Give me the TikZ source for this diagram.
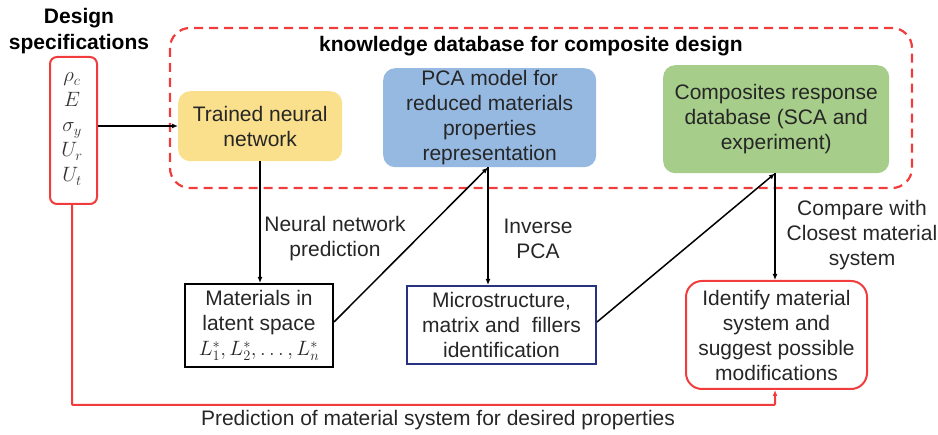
\documentclass[tikz,border=0pt]{standalone}
\usepackage{fontspec}
\setmainfont{Liberation Sans}
\usetikzlibrary{arrows.meta}
\definecolor{nnyellow}{RGB}{250,224,140}
\definecolor{pcablue}{RGB}{150,185,226}
\definecolor{cgreen}{RGB}{166,206,138}
\definecolor{rred}{RGB}{240,60,60}
\definecolor{navy}{RGB}{40,50,130}
\begin{document}
\begin{tikzpicture}[x=1pt,y=-1pt,
  lbl/.style={font=\fontsize{21}{25}\selectfont, align=center, text=black!85},
  fillbox/.style={rounded corners=12pt, lbl, anchor=north west, inner sep=0pt},
  arr/.style={-{Latex[length=6pt,width=5pt]}, line width=1.5pt},
]
\useasboundingbox (0,0) rectangle (938,435);
% dashed knowledge box
\draw[rred, line width=2.2pt, dash pattern=on 9pt off 6pt, rounded corners=20pt] (170,28) rectangle (912,188);
\node[lbl, font=\bfseries\fontsize{21}{25}\selectfont, text=black] (kt) at (531,46) {knowledge database for composite design};
% design spec
\node[lbl, font=\bfseries\fontsize{21}{26}\selectfont, text=black] (dt) at (79,31) {Design\\specifications};
\node[draw=rred, line width=2pt, rounded corners=7pt, minimum width=47pt, minimum height=147pt, anchor=north west, inner sep=0pt] (ds) at (49,56) {};
\node[font=\fontsize{21}{25}\selectfont, align=center, text=black!80] (dsv) at (72,129) {$\rho_c$\\$E$\\$\sigma_y$\\$U_r$\\$U_t$};
% colored boxes
\node[fillbox, fill=nnyellow, minimum width=164pt, minimum height=70pt] (nn) at (178,91) {Trained neural\\network};
\node[fillbox, fill=pcablue, minimum width=213pt, minimum height=99pt] (pca) at (383,68) {PCA model for\\reduced materials\\properties\\representation};
\node[fillbox, fill=cgreen, minimum width=226pt, minimum height=108pt] (cr) at (663,65) {Composites response\\database (SCA and\\experiment)};
% lower boxes
\node[draw=black, line width=2pt, lbl, anchor=north west, inner sep=0pt, minimum width=148pt, minimum height=83pt] (mat) at (184,283) {Materials in\\latent space\\$L_1^*, L_2^*, \ldots, L_n^*$};
\node[draw=navy, line width=2pt, lbl, anchor=north west, inner sep=0pt, minimum width=189pt, minimum height=78pt] (mic) at (406,285) {Microstructure,\\matrix and\ \ fillers\\identification};
\node[draw=rred, line width=2pt, rounded corners=16pt, lbl, anchor=north west, inner sep=0pt, minimum width=181pt, minimum height=108pt] (idf) at (685,280) {Identify material\\system and\\suggest possible\\modifications};
% labels
\node[lbl] (l1) at (335,239) {Neural network\\prediction};
\node[lbl] (l2) at (538,239) {Inverse\\PCA};
\node[lbl] (l3) at (862,235) {Compare with\\Closest material\\system};
\node[lbl] (l4) at (438,420) {Prediction of material system for desired properties};
% connectors
\draw[arr] (ds.east |- 0,126) -- (nn.west |- 0,126);
\draw[arr] (nn.south -| 260,0) -- (mat.north -| 260,0);
\coordinate (mr) at (332,322);
\draw[arr] (mat.east |- mr) -- (pca.south -| 488,0);
\draw[arr] (pca.south -| 488,0) -- (mic.north -| 488,0);
\draw[arr] (mic.east |- mr) -- (cr.south -| 775,0);
\draw[arr] (cr.south -| 775,0) -- (idf.north -| 775,0);
\draw[arr, rred, line width=2pt, rounded corners=1pt] (ds.south -| 72,0) -- (72,405) -- (775,405) -- (idf.south -| 775,0);
\end{tikzpicture}
\end{document}
